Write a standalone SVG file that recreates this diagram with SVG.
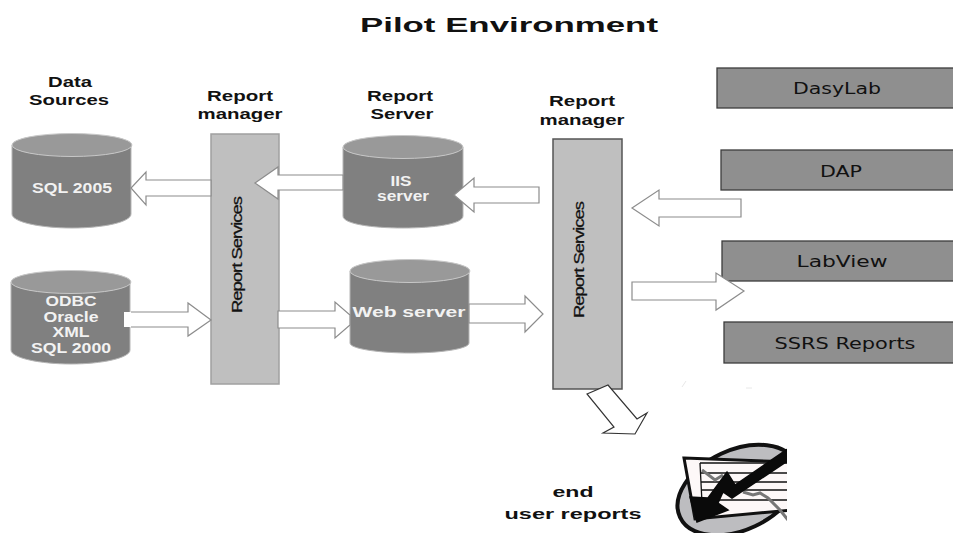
<svg xmlns="http://www.w3.org/2000/svg" width="953" height="533" viewBox="0 0 953 533">
<style>
text{font-family:"Liberation Sans",Arial,sans-serif;text-anchor:middle}
.h{font-weight:700;font-size:15px;fill:#111}
.w{font-weight:700;font-size:14px;fill:#f2f2f2}
.b{font-family:"DejaVu Sans",sans-serif;font-size:15px;fill:#111}
.v{font-size:14.5px;fill:#111;stroke:#111;stroke-width:.25;letter-spacing:-.8px}
.body{fill:#808080;stroke:#b5b5b5;stroke-width:1}
.top{fill:#999;stroke:#c8c8c8;stroke-width:1}
.bar{fill:#bfbfbf;stroke:#a0a0a0;stroke-width:1.5}
.bar2{fill:#bfbfbf;stroke:#555;stroke-width:1.5}
.box{fill:#8f8f8f;stroke:#3c3c3c;stroke-width:1.3}
.ar{fill:#fff;stroke:#8c8c8c;stroke-width:1.2}
.arh{fill:none;stroke:#8c8c8c;stroke-width:1.2}
</style>
<defs><clipPath id="iconclip"><rect x="660" y="440" width="127" height="93"/></clipPath></defs>
<text x="509" y="32" font-size="21" font-weight="700" fill="#111" textLength="298" lengthAdjust="spacingAndGlyphs">Pilot Environment</text>
<g id="label-data-sources"><text class="h" x="70" y="87" textLength="44" lengthAdjust="spacingAndGlyphs">Data</text><text class="h" x="69" y="105" textLength="80" lengthAdjust="spacingAndGlyphs">Sources</text></g>
<g id="label-report-manager-1"><text class="h" x="240" y="101" textLength="66" lengthAdjust="spacingAndGlyphs">Report</text><text class="h" x="240" y="119" textLength="85" lengthAdjust="spacingAndGlyphs">manager</text></g>
<g id="label-report-server"><text class="h" x="400" y="101" textLength="66" lengthAdjust="spacingAndGlyphs">Report</text><text class="h" x="402" y="119" textLength="63" lengthAdjust="spacingAndGlyphs">Server</text></g>
<g id="label-report-manager-2"><text class="h" x="582" y="106" textLength="66" lengthAdjust="spacingAndGlyphs">Report</text><text class="h" x="582" y="125" textLength="85" lengthAdjust="spacingAndGlyphs">manager</text></g>

<g id="sql2005"><path class="body" d="M12 145V214C12 222 40 228 72 228S131 222 131 214V145Z"/><ellipse class="top" cx="72" cy="145" rx="60" ry="11.5"/><text class="w" x="72" y="193" textLength="80" lengthAdjust="spacingAndGlyphs">SQL 2005</text></g>
<g id="odbc"><path class="body" d="M11 282V350C11 358 40 364 71 364S130 358 130 350V282Z"/><ellipse class="top" cx="71" cy="282" rx="60" ry="11.5"/><text class="w" x="71" y="306" textLength="51" lengthAdjust="spacingAndGlyphs">ODBC</text><text class="w" x="71" y="322" textLength="55" lengthAdjust="spacingAndGlyphs">Oracle</text><text class="w" x="71" y="337" textLength="37" lengthAdjust="spacingAndGlyphs">XML</text><text class="w" x="71" y="353" textLength="80" lengthAdjust="spacingAndGlyphs">SQL 2000</text></g>
<g id="iis"><path class="body" d="M343 147V216C343 224 372 228 403 228S463 224 463 216V147Z"/><ellipse class="top" cx="403" cy="147" rx="60" ry="11.5"/><text class="w" x="401" y="186" textLength="21" lengthAdjust="spacingAndGlyphs">IIS</text><text class="w" x="403" y="201" textLength="52" lengthAdjust="spacingAndGlyphs">server</text></g>
<g id="web"><path class="body" d="M350 271V343C350 349 380 353 410 353S469 349 469 343V271Z"/><ellipse class="top" cx="410" cy="271" rx="60" ry="11.5"/><text class="w" x="409" y="317" textLength="113" lengthAdjust="spacingAndGlyphs">Web server</text></g>
<g id="rs1"><rect class="bar" x="211" y="134" width="68" height="250"/><text class="v" transform="translate(242 255) rotate(-90)" textLength="116" lengthAdjust="spacingAndGlyphs">Report Services</text></g>
<g id="rs2"><rect class="bar2" x="553" y="139" width="69" height="250"/><text class="v" transform="translate(584 260) rotate(-90)" textLength="116" lengthAdjust="spacingAndGlyphs">Report Services</text></g>
<g id="dasylab"><rect class="box" x="717" y="68" width="240" height="40"/><text class="b" x="837" y="94" textLength="88" lengthAdjust="spacingAndGlyphs">DasyLab</text></g>
<g id="dap"><rect class="box" x="721" y="150" width="240" height="40"/><text class="b" x="841" y="177" textLength="42" lengthAdjust="spacingAndGlyphs">DAP</text></g>
<g id="labview"><rect class="box" x="722" y="241" width="240" height="40"/><text class="b" x="842" y="267" textLength="91" lengthAdjust="spacingAndGlyphs">LabView</text></g>
<g id="ssrs"><rect class="box" x="724" y="322" width="240" height="41"/><text class="b" x="845" y="349" textLength="141" lengthAdjust="spacingAndGlyphs">SSRS Reports</text></g>

<g id="connectors">
<path class="ar" d="M211 180H146V172L131 188L146 205V196H211Z"/>
<path class="ar" d="M343 175H278V167L255 183L278 199V190H343Z"/>
<path class="ar" d="M539 187H474V178L454 195L474 212V203H539Z"/>
<path class="ar" d="M741 199H659V190L632 208L659 226V217H741Z"/>
<path class="ar" d="M632 282H716V273L744 291L716 310V300H632Z"/>
<path d="M124 312H188V303L211 320L188 336V327H124Z" fill="#fff"/>
<path class="arh" d="M131 312H188V303L211 320L188 336V327H131"/>
<path class="ar" d="M278 311H335V302L350 315V325L335 338V328H278Z"/>
<path class="ar" d="M469 304H525V296L543 314L525 332V323H469Z"/>
<path d="M587 394L608 385L637 419L647 413L635 434L603 433L614 427Z" fill="#fff" stroke="#333" stroke-width="1.2"/>
</g>

<g id="end-user-reports-label"><text class="h" x="573" y="497" textLength="41" lengthAdjust="spacingAndGlyphs">end</text><text class="h" x="573" y="519" textLength="137" lengthAdjust="spacingAndGlyphs">user reports</text></g>
<g id="report-icon" clip-path="url(#iconclip)">
<ellipse cx="738" cy="490" rx="64" ry="40" fill="#bdbdc0" stroke="#111" stroke-width="4" transform="rotate(-25 738 490)"/>
<path d="M684 458L792 462V510L695 519Z" fill="#fdf8f8" stroke="#111" stroke-width="3"/>
<path d="M700 463L702 503M700 463H790M701 473H790M701 482H790M702 490H790M702 500H790" stroke="#111" stroke-width="1.3" fill="none"/>
<path d="M702 470L715 480L723 475M743 492L753 495L760 493L768 498L780 510L788 520" stroke="#777" stroke-width="3" fill="none"/>
<path d="M792 446L735 485L727 472L708 498L690 497L697 522L728 510L718 503L723 492L732 498L792 458Z" fill="#0a0a0a" stroke="#0a0a0a" stroke-width="1.5"/>
</g>
<g id="faint-mark"><path d="M682 387L686 381M746 388H752" fill="none" stroke="#e8e8e8" stroke-width="1"/></g>
</svg>
